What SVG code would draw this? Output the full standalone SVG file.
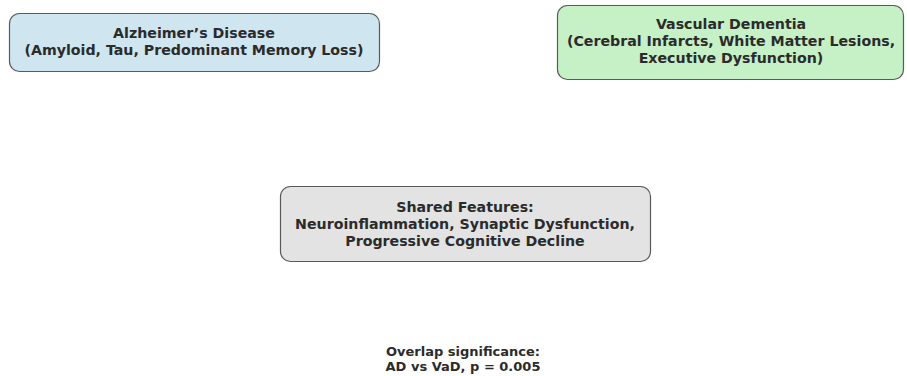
<svg xmlns="http://www.w3.org/2000/svg" width="907" height="376" viewBox="0 0 907 376">
<style>
.box{stroke:#5a5a5a;stroke-width:1.2}
.t{font-family:"DejaVu Sans",sans-serif;font-weight:bold;font-size:14.2px;fill:#2b2b2b;text-anchor:middle}
.n{font-size:13px}
</style>
<rect width="907" height="376" fill="#ffffff"/>
<g id="alzheimers">
<rect class="box" x="9.5" y="13.5" width="370" height="58" rx="10" fill="#cfe5f0"/>
<text class="t" x="194" y="38">Alzheimer’s Disease</text>
<text class="t" x="194" y="55">(Amyloid, Tau, Predominant Memory Loss)</text>
</g>
<g id="vascular">
<rect class="box" x="557.5" y="5.5" width="346" height="74" rx="10" fill="#c6f0c6"/>
<text class="t" x="731" y="29">Vascular Dementia</text>
<text class="t" x="731" y="46">(Cerebral Infarcts, White Matter Lesions,</text>
<text class="t" x="731" y="63">Executive Dysfunction)</text>
</g>
<g id="shared">
<rect class="box" x="280.5" y="186.5" width="370" height="75" rx="10" fill="#e3e3e3"/>
<text class="t" x="465" y="212">Shared Features:</text>
<text class="t" x="465" y="229">Neuroinflammation, Synaptic Dysfunction,</text>
<text class="t" x="465" y="246">Progressive Cognitive Decline</text>
</g>
<g id="connectors"></g>
<g id="note">
<text class="t n" x="463" y="356">Overlap significance:</text>
<text class="t n" x="463" y="371">AD vs VaD, p = 0.005</text>
</g>
</svg>
